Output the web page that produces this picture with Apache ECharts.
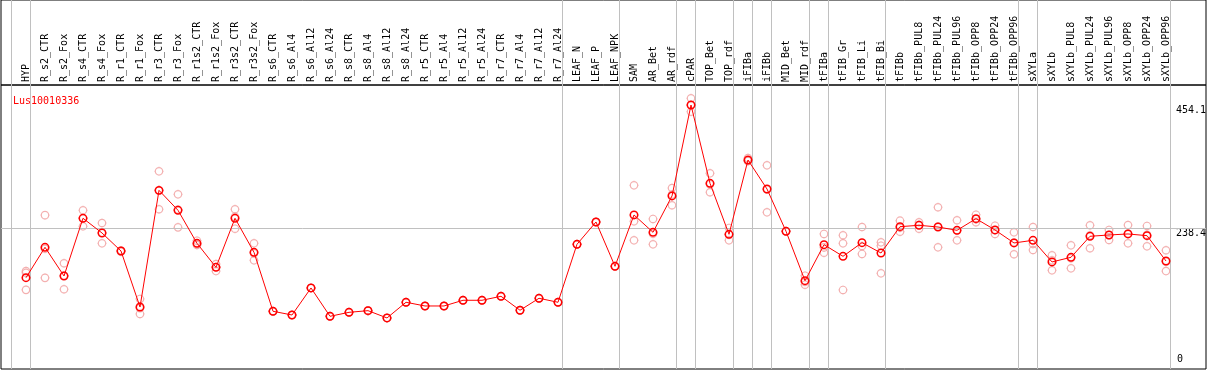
<!DOCTYPE html>
<html>
<head>
<meta charset="utf-8">
<script src="https://cdn.jsdelivr.net/npm/echarts@6/dist/echarts.min.js"></script>
<style>
html,body{margin:0;padding:0;background:#fff;}
#chart{width:1209px;height:370px;}
</style>
</head>
<body>
<div id="chart"></div>
<script>
const geneName = 'Lus10010336';
const categories = ['HYP','R_s2_CTR','R_s2_Fox','R_s4_CTR','R_s4_Fox','R_r1_CTR','R_r1_Fox','R_r3_CTR','R_r3_Fox','R_r1s2_CTR','R_r1s2_Fox','R_r3s2_CTR','R_r3s2_Fox','R_s6_CTR','R_s6_Al4','R_s6_Al12','R_s6_Al24','R_s8_CTR','R_s8_Al4','R_s8_Al12','R_s8_Al24','R_r5_CTR','R_r5_Al4','R_r5_Al12','R_r5_Al24','R_r7_CTR','R_r7_Al4','R_r7_Al12','R_r7_Al24','LEAF_N','LEAF_P','LEAF_NPK','SAM','AR_Bet','AR_rdf','cPAR','TOP_Bet','TOP_rdf','iFIBa','iFIBb','MID_Bet','MID_rdf','tFIBa','tFIB_Gr','tFIB_Li','tFIB_Bi','tFIBb','tFIBb_PUL8','tFIBb_PUL24','tFIBb_PUL96','tFIBb_OPP8','tFIBb_OPP24','tFIBb_OPP96','sXYLa','sXYLb','sXYLb_PUL8','sXYLb_PUL24','sXYLb_PUL96','sXYLb_OPP8','sXYLb_OPP24','sXYLb_OPP96'];
const meanValues = [151.3,204.6,154.3,255.5,229.7,198.1,99.9,304.5,269.5,211.6,169.5,255.5,195.8,92.4,85.9,133.3,83.6,90.6,93.5,80.7,108.2,101.7,101.7,111.7,111.7,118.7,94.2,115.2,108.2,209.9,249.0,171.3,261.3,230.9,294.6,454.1,316.8,227.4,357.7,306.8,232.7,146.0,209.2,188.8,212.7,194.6,240.8,243.2,240.2,234.4,254.8,235.0,212.2,216.9,178.9,187.1,223.9,226.2,228.0,225.0,180.6];
const rep1 = [163,261,176.6,269.5,247.2,199,114,337.9,297.5,216.2,175.3,271.3,211.6,92.4,85.9,133.3,83.6,90.6,93.5,80.7,108.2,101.7,101.7,111.7,111.7,118.7,94.2,115.2,108.2,209.9,249,171.3,313.3,254.3,308.6,465.9,334.4,238.5,361,348.4,232.7,154.8,228,225.7,240.2,213.4,251.3,248.5,274.8,252,261.8,242.5,230.9,240.2,190.6,208.1,243.2,235,243.7,242,199.4];
const rep2 = [160,151,131,241.4,211.6,197,87.7,271.3,239.6,210,163,237.2,181.8,92.4,85.9,133.3,83.6,90.6,93.5,80.7,108.2,101.7,101.7,111.7,111.7,118.7,94.2,115.2,108.2,209.9,249,171.3,250.2,209.9,278.3,442.4,301.1,216.9,356,266,232.7,139,195.2,211.6,192.9,207.4,232,237.2,204.6,216.9,248.5,228,192.4,199.9,164.3,167.8,202.9,217.4,211.6,206.4,163];
const rep3 = [130,202,155,256,230,198,98,304,271,208.6,170,258,194,92.4,85.9,133.3,83.6,90.6,93.5,80.7,108.2,101.7,101.7,111.7,111.7,118.7,94.2,115.2,108.2,209.9,249,171.3,216.9,228.5,297,454,315,226.8,356,306,232.7,144,204.4,129.8,206.9,159,239,244,241,234,254,234.5,213,210.6,181.8,185.4,225.6,226,228.7,226.6,179.4];
const separatorsAfter = [-1,0,28,31,34,35,37,38,39,41,42,45,52,53,60];
const yTickLabels = [0, 238.4, 454.1];
const refValue = 238.4;

const FONT = 'DejaVu Sans Mono';
const X_MIN = -1.3158, X_MAX = 62.105;
const Y_MIN = -8.8, Y_MAX = 489.2;
const SEP_OFFSET = 0.2;

const markerPath = 'path://M45,0L45,8M45,82L45,90M0,45L8,45M82,45L90,45M8,45A37,37,0,1,1,82,45A37,37,0,1,1,8,45Z';

const idx = categories.map((c, i) => i);
const toPts = arr => arr.map((v, i) => [i, v]);

const chart = echarts.init(document.getElementById('chart'), null, {renderer: 'canvas'});
const repSeries = [rep1, rep2, rep3].map(r => ({
  type: 'scatter', xAxisIndex: 1, yAxisIndex: 1, data: toPts(r),
  symbol: markerPath, symbolSize: 9, symbolKeepAspect: true,
  itemStyle: {color: 'rgba(0,0,0,0)', borderColor: '#f09c9c', borderWidth: 1.2},
  silent: true, z: 3
}));

chart.setOption({
  animation: false,
  title: {text: geneName, left: 8, top: 91, textStyle: {color: '#ff0000', fontFamily: FONT, fontSize: 10, fontWeight: 'normal'}},
  grid: [
    {left: 1, width: 1205, top: 0, height: 85, show: true, borderColor: '#000', borderWidth: 1, backgroundColor: 'rgba(0,0,0,0)'},
    {left: 1, width: 1205, top: 85, height: 284, show: true, borderColor: '#000', borderWidth: 1, backgroundColor: 'rgba(0,0,0,0)'},
    {left: 1, width: 1205, top: 0, height: 369, show: false}
  ],
  xAxis: [
    {type: 'value', gridIndex: 0, min: X_MIN, max: X_MAX, position: 'bottom',
     axisLine: {show: false}, axisTick: {show: false}, splitLine: {show: false},
     axisLabel: {show: true, inside: true, rotate: 90, margin: 3, customValues: idx,
       formatter: v => categories[Math.round(v)] || '', color: '#000', fontFamily: FONT, fontSize: 10}},
    {type: 'value', gridIndex: 1, min: X_MIN, max: X_MAX, show: false},
    {type: 'value', gridIndex: 2, min: X_MIN, max: X_MAX, show: false}
  ],
  yAxis: [
    {type: 'value', gridIndex: 0, min: 0, max: 1, show: false},
    {type: 'value', gridIndex: 1, min: Y_MIN, max: Y_MAX, position: 'right',
     axisLine: {show: false}, axisTick: {show: false}, splitLine: {show: false},
     axisLabel: {inside: true, margin: 0, customValues: yTickLabels.filter(v => v !== 0), verticalAlign: 'top',
       formatter: v => String(v), color: '#000', fontFamily: FONT, fontSize: 10}},
    {type: 'value', gridIndex: 2, min: 0, max: 1, show: false},
    {type: 'value', gridIndex: 1, min: Y_MIN, max: Y_MAX, position: 'right',
     axisLine: {show: false}, axisTick: {show: false}, splitLine: {show: false},
     axisLabel: {inside: true, margin: 0, customValues: yTickLabels.filter(v => v === 0), verticalAlign: 'bottom',
       formatter: v => String(v), color: '#000', fontFamily: FONT, fontSize: 10, padding: [0, 23, 0, 0]}}
  ],
  series: [
    {type: 'line', xAxisIndex: 2, yAxisIndex: 2, data: [], silent: true, z: 1,
     markLine: {silent: true, symbol: ['none', 'none'], label: {show: false},
       lineStyle: {color: '#c0c0c0', width: 1, type: 'solid'},
       data: separatorsAfter.map(s => ({xAxis: s + SEP_OFFSET}))}},
    {type: 'line', xAxisIndex: 1, yAxisIndex: 1, data: [], silent: true, z: 1,
     markLine: {silent: true, symbol: ['none', 'none'], label: {show: false},
       lineStyle: {color: '#c0c0c0', width: 1, type: 'solid'},
       data: [{yAxis: refValue}]}},
    ...repSeries,
    {type: 'line', xAxisIndex: 1, yAxisIndex: 1, data: toPts(meanValues),
     symbol: markerPath, symbolSize: 9, symbolKeepAspect: true, showAllSymbol: true,
     lineStyle: {color: '#ff0000', width: 1},
     itemStyle: {color: 'rgba(0,0,0,0)', borderColor: '#ff0000', borderWidth: 1.5},
     silent: true, z: 5}
  ]
});
</script>
</body>
</html>
